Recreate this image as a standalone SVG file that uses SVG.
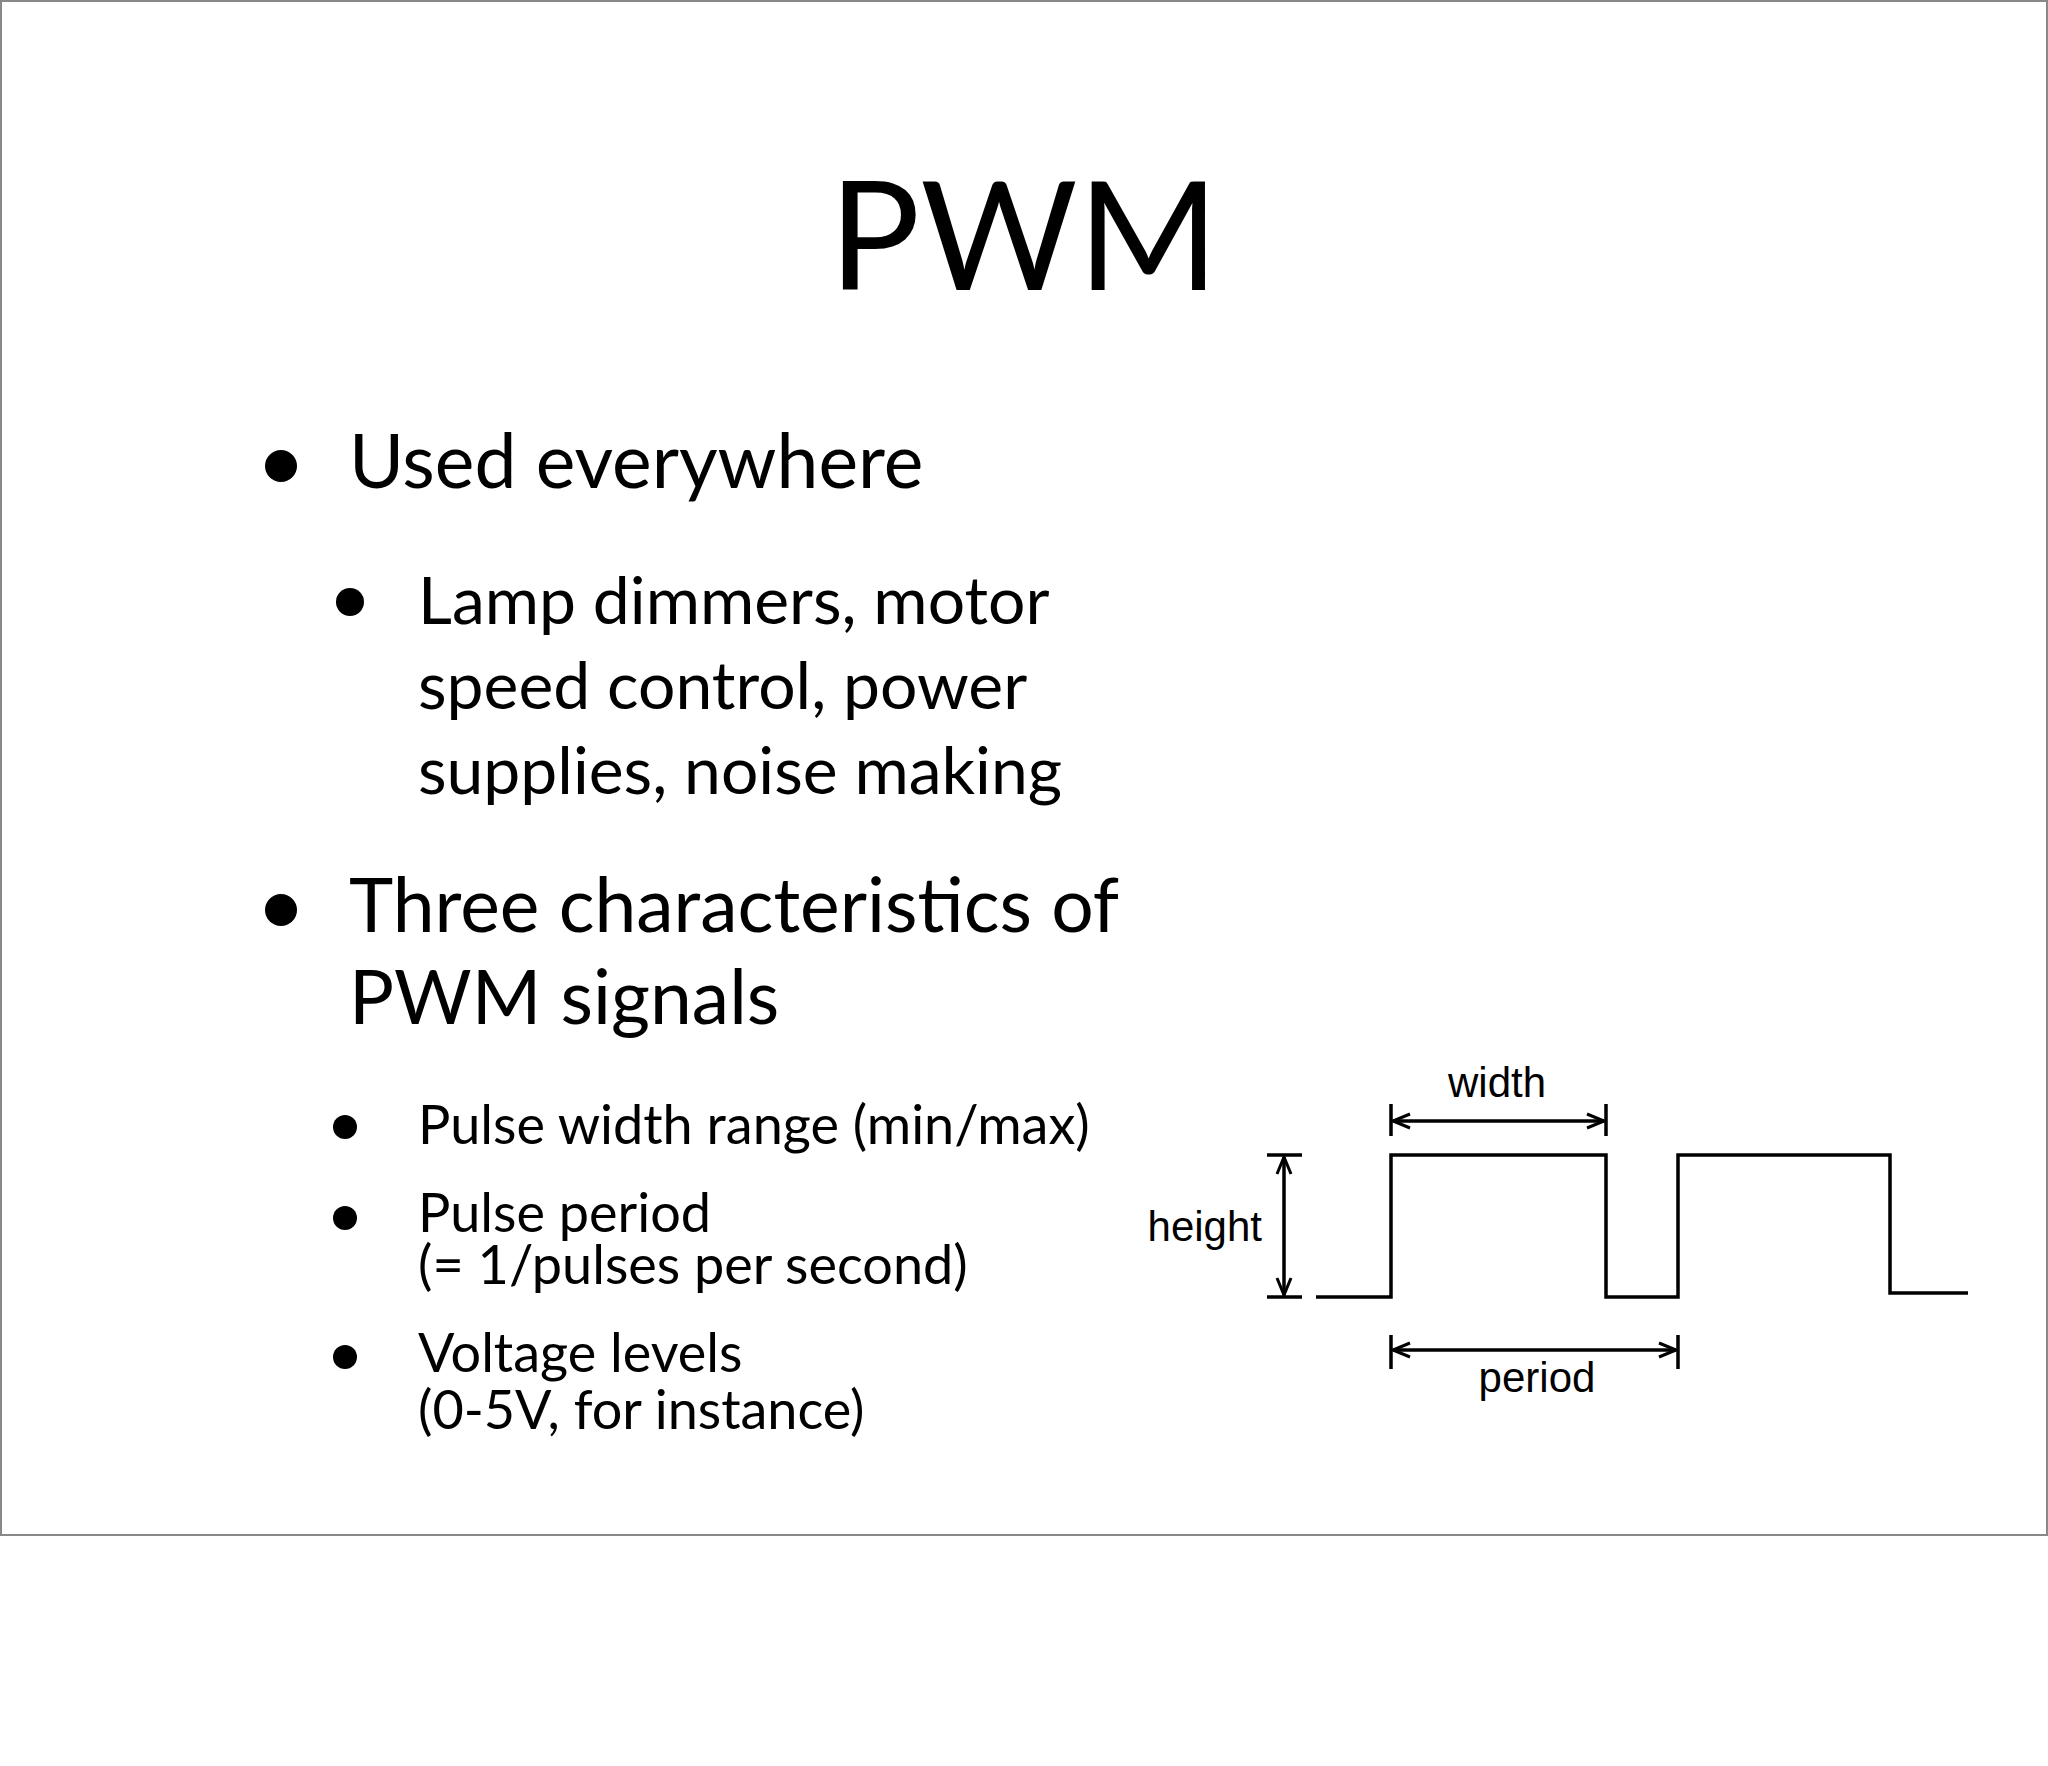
<svg xmlns="http://www.w3.org/2000/svg" width="2048" height="1766" viewBox="0 0 2048 1766">
<style>
.t{font-family:Lato,"Open Sans",sans-serif;fill:#000}
.l{font-family:"Liberation Sans",Arial,sans-serif;font-size:42px;fill:#000}
.w{stroke:#000;stroke-width:3.5;fill:none}
</style>
<defs>
<marker id="a" viewBox="0 0 20 20" refX="19" refY="10" markerWidth="20" markerHeight="20" markerUnits="userSpaceOnUse" orient="auto-start-reverse"><path d="M2,3 L19,10 L2,17" fill="none" stroke="#000" stroke-width="3"/></marker>
</defs>
<rect x="0" y="0" width="2048" height="1766" fill="#fff"/>
<rect x="1" y="1" width="2046" height="1534" fill="#fff" stroke="#888" stroke-width="2"/>
<g id="title"><text class="t" x="1024" y="290" font-size="152" text-anchor="middle">PWM</text></g>
<g id="bullets">
<circle cx="281" cy="466" r="16"/>
<text class="t" x="349" y="488" font-size="75">Used everywhere</text>
<circle cx="350" cy="602" r="14"/>
<text class="t" x="418" y="624" font-size="66">Lamp dimmers, motor</text>
<text class="t" x="418" y="709" font-size="66">speed control, power</text>
<text class="t" x="418" y="794" font-size="66">supplies, noise making</text>
<circle cx="281" cy="910" r="16"/>
<text class="t" x="349" y="932" font-size="75">Three characteristics of</text>
<text class="t" x="349" y="1024" font-size="75">PWM signals</text>
<circle cx="345" cy="1127" r="12"/>
<text class="t" x="418" y="1144" font-size="54">Pulse width range (min/max)</text>
<circle cx="345" cy="1218" r="12"/>
<text class="t" x="418" y="1232" font-size="54">Pulse period</text>
<text class="t" x="418" y="1284" font-size="54">(= 1/pulses per second)</text>
<circle cx="345" cy="1357" r="12"/>
<text class="t" x="418" y="1372" font-size="54">Voltage levels</text>
<text class="t" x="418" y="1429" font-size="54">(0-5V, for instance)</text>
</g>
<g id="waveform">
<path class="w" d="M1316,1297 H1391 V1155 H1606 V1297 H1678 V1155 H1890 V1293 H1968"/>
</g>
<g id="connectors">
<path class="w" d="M1391,1104 V1136 M1606,1104 V1136 M1391,1335 V1369 M1678,1335 V1369 M1267,1155 H1302 M1267,1297 H1302" stroke-width="3"/>
<line class="w" x1="1393" y1="1121" x2="1604" y2="1121" stroke-width="3" marker-start="url(#a)" marker-end="url(#a)"/>
<line class="w" x1="1393" y1="1350" x2="1676" y2="1350" stroke-width="3" marker-start="url(#a)" marker-end="url(#a)"/>
<line class="w" x1="1284" y1="1157" x2="1284" y2="1295" stroke-width="3" marker-start="url(#a)" marker-end="url(#a)"/>
</g>
<g id="labels">
<text class="l" x="1497" y="1097" text-anchor="middle">width</text>
<text class="l" x="1262" y="1241" text-anchor="end">height</text>
<text class="l" x="1537" y="1392" text-anchor="middle">period</text>
</g>
</svg>
